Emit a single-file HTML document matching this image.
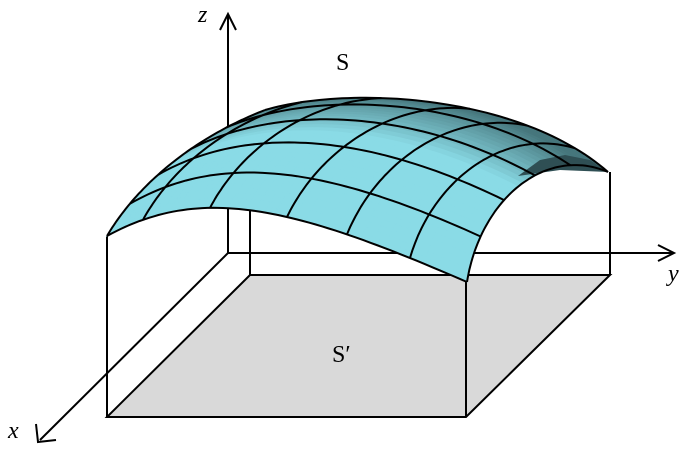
<!DOCTYPE html>
<html><head><meta charset="utf-8"><style>
html,body{margin:0;padding:0;background:#fff;}
svg{display:block;}
text{font-family:"Liberation Serif",serif;}
</style></head><body>
<svg id="fig" width="692" height="449" viewBox="0 0 692 449">
<polygon points="107,417 466,417 610,275 250,275" fill="#d9d9d9" stroke="#000" stroke-width="2"/>
<g stroke="#000" stroke-width="2" fill="none">
<line x1="107" y1="236" x2="107" y2="417"/>
<line x1="466" y1="282" x2="466" y2="417"/>
<line x1="610" y1="172" x2="610" y2="275"/>
<line x1="250" y1="200" x2="250" y2="275"/>
</g>
<g stroke="#000" stroke-width="2" fill="none">
<line x1="228" y1="253" x2="228" y2="16"/>
<line x1="228" y1="253" x2="672" y2="253"/>
<line x1="228" y1="253" x2="40" y2="440"/>
<path d="M220,30 L228,14 L236,30"/>
<path d="M658,245 L674,253 L658,261"/>
<path d="M36,424 L38,442 L56,440"/>
</g>
<g id="surf"></g>
<polygon points="518,176 540,160 565,155 590,160 608,172 560,170" fill="#2f4f54"/>
<g id="grid" stroke="#000" stroke-width="2" fill="none"></g>
<text x="336" y="70" font-size="24">S</text>
<text x="332" y="362" font-size="24">S′</text>
<text x="198" y="22" font-size="24" font-style="italic">z</text>
<text x="668" y="281" font-size="24" font-style="italic">y</text>
<text x="8" y="438" font-size="24" font-style="italic">x</text>
</svg>
<script>
const frontEdge=[[107,236],[200,185],[290,205],[467,282]];
const backEdge=[[265,110],[350,85],[520,95],[608,172]];
const leftEdge=[[107,236],[140,180],[200,135],[265,110]];
const rightEdge=[[467,282],[480,200],[545,145],[608,172]];
const vLineFrontX=[143,210,287,347,410];
const uLines=[0.2,0.4,0.6,0.8];
function bez(c,t){const s=1-t;return [0,1].map(i=>s*s*s*c[0][i]+3*s*s*t*c[1][i]+3*s*t*t*c[2][i]+t*t*t*c[3][i]);}
function P(u,v){
 const f=bez(frontEdge,v),b=bez(backEdge,v),l=bez(leftEdge,u),r=bez(rightEdge,u);
 const c00=frontEdge[0],c01=frontEdge[3],c10=backEdge[0],c11=backEdge[3];
 return [0,1].map(i=>(1-u)*f[i]+u*b[i]+(1-v)*l[i]+v*r[i]-((1-u)*(1-v)*c00[i]+(1-u)*v*c01[i]+u*(1-v)*c10[i]+u*v*c11[i]));
}
function tForX(x){let lo=0,hi=1;for(let k=0;k<40;k++){const m=(lo+hi)/2;if(bez(frontEdge,m)[0]<x)lo=m;else hi=m;}return (lo+hi)/2;}
const NS="http://www.w3.org/2000/svg";
const surf=document.getElementById('surf'),grid=document.getElementById('grid');
const N=36;
function col(u,v){
 let d=Math.max(0,(u-0.5)/0.5);d=Math.min(1,Math.pow(d,0.8)*(0.85+0.4*v));
 const a=[138,219,230],b=[70,118,124];
 return 'rgb('+a.map((x,i)=>Math.round(x+(b[i]-x)*d)).join(',')+')';
}
for(let i=0;i<N;i++)for(let j=0;j<N;j++){
 const u0=i/N,u1=(i+1)/N,v0=j/N,v1=(j+1)/N;
 const pts=[P(u0,v0),P(u0,v1),P(u1,v1),P(u1,v0)];
 const p=document.createElementNS(NS,'polygon');
 p.setAttribute('points',pts.map(q=>q.join(',')).join(' '));
 const c=col((u0+u1)/2,(v0+v1)/2);
 p.setAttribute('fill',c);p.setAttribute('stroke',c);p.setAttribute('stroke-width','0.8');
 
 
 surf.appendChild(p);
}
function line(fn){
 let d='';for(let k=0;k<=60;k++){const q=fn(k/60);d+=(k?'L':'M')+q[0].toFixed(1)+','+q[1].toFixed(1);}
 const p=document.createElementNS(NS,'path');p.setAttribute('d',d);return p;
}
[0].concat(uLines,[1]).forEach(u=>{
 const p=line(t=>P(u,t));
 
 
 grid.appendChild(p);
});
[0].concat(vLineFrontX.map(tForX),[1]).forEach(v=>{
 const p=line(t=>P(t,v));
 
 
 grid.appendChild(p);
});
</script>
</body></html>
